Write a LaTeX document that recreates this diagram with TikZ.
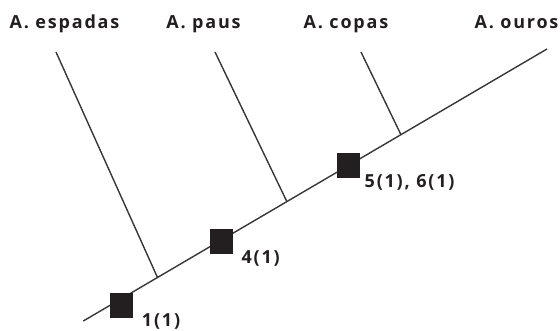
\documentclass[tikz,border=0pt]{standalone}
\usepackage{fontspec}
\setmainfont{Open Sans}
\newfontfamily\taxfont[LetterSpace=10]{Open Sans}
\usetikzlibrary{positioning}
\definecolor{ink}{RGB}{35,31,32}
\definecolor{twig}{RGB}{55,55,55}

\begin{document}
\begin{tikzpicture}[x=1pt,y=-1pt,font=\bfseries\taxfont\fontsize{18}{20}\selectfont,
  branch/.style={draw=twig,line width=1.4pt},
  apo/.style={fill=ink,minimum width=22.5pt,minimum height=24.5pt,inner sep=0pt},
  taxon/.style={text=ink,inner sep=0pt,anchor=base},
  lbl/.style={text=ink,inner sep=0pt}]
  \useasboundingbox (0,0) rectangle (560,331);
  % tree
  \coordinate (root) at (83.3,321);
  \coordinate (ouro) at (547,49);
  \coordinate (tesp) at (56,52);
  \coordinate (tpau) at (215,52);
  \coordinate (tcop) at (361,52);
  \path (root) -- (ouro) coordinate[pos=0.16] (j1) coordinate[pos=0.439] (j2)
    coordinate[pos=0.685] (j3) coordinate[pos=0.082] (c1) coordinate[pos=0.298] (c2)
    coordinate[pos=0.572] (c3);
  \draw[branch] (root) -- (ouro);
  \draw[branch] (tesp) -- (j1);
  \draw[branch] (tpau) -- (j2);
  \draw[branch] (tcop) -- (j3);
  % names
  \node[taxon] (espadas) at (64.5,29) {A. espadas};
  \node[taxon] (paus) at (203.5,29) {A. paus};
  \node[taxon] (copas) at (346,29) {A. copas};
  \node[taxon] (ouros) at (516.5,29) {A. ouros};
  % characters
  \node[apo,yshift=-7pt] (s1) at (c1) {};
  \node[apo,yshift=-1.5pt] (s2) at (c2) {};
  \node[apo] (s3) at (c3) {};
  \node[lbl,below right=-5pt and 9pt of s1] (k1) {1(1)};
  \node[lbl,below right=-3.7pt and 8.5pt of s2] (k2) {4(1)};
  \node[lbl,below right=-3.4pt and 4.5pt of s3] (k3) {5(1), 6(1)};
\end{tikzpicture}
\end{document}
